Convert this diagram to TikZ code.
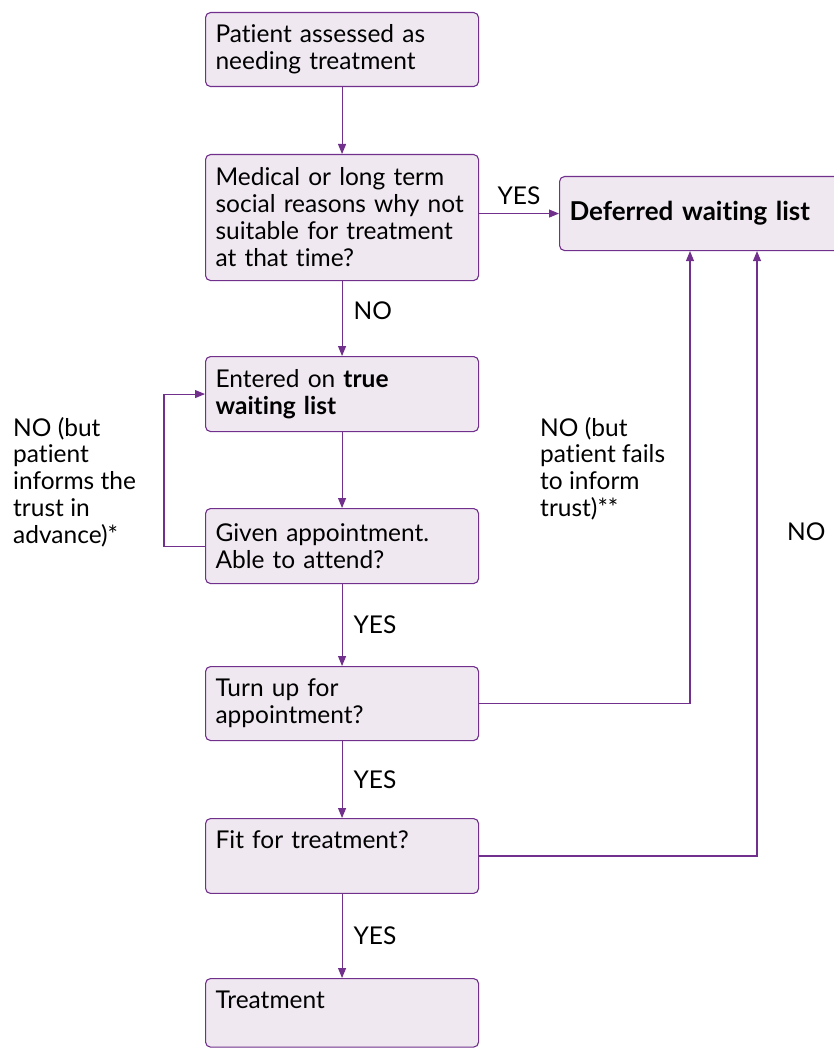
\documentclass[tikz,border=0pt]{standalone}
\usepackage{fontspec}
\setmainfont{Lato}[Ligatures=NoCommon]
\usepackage{tikz}
\usetikzlibrary{calc, positioning, arrows.meta}
\definecolor{flowline}{RGB}{112,48,140}
\definecolor{flowfill}{RGB}{239,232,241}
\tikzset{
  box/.style={draw=flowline, fill=flowfill, rounded corners=5pt, line width=1.1pt,
    anchor=north west, inner xsep=10pt, inner ysep=12pt, align=left,
    text width=253pt, minimum width=273pt, font=\fontsize{24.5}{27}\selectfont},
  flow/.style={draw=flowline, line width=1.1pt, -{Triangle[length=10pt,width=8pt]}},
  lbl/.style={font=\fontsize{24.5}{26.7}\selectfont, align=left, inner sep=0pt},
}

\begin{document}
\begin{tikzpicture}[x=1pt, y=-1pt]
\useasboundingbox (0,0) rectangle (833,1051);
\node[box, minimum height=74pt] (patient) at (205,12) {Patient assessed as\\needing treatment};
\node[box, minimum height=126pt] (reasons) at (205,154) {Medical or long term\\social reasons why not\\suitable for treatment\\at that time?};
\node[box, minimum height=74pt, text width=270pt, minimum width=289pt, font=\fontsize{26}{27}\selectfont] (deferred) at (559,176) {\textbf{Deferred waiting list}};
\node[box, minimum height=75pt] (truelist) at (205,356) {Entered on \textbf{true}\\\textbf{waiting list}};
\node[box, minimum height=75pt] (given) at (205,508) {Given appointment.\\Able to attend?};
\node[box, minimum height=74pt] (turnup) at (205,666) {Turn up for\\appointment?};
\node[box, text depth=33pt] (fit) at (205,818) {Fit for treatment?};
\node[box, text depth=27pt] (treat) at (205,978) {Treatment};

\coordinate (in1) at ($(deferred.south west)+(131,0)$);
\coordinate (in2) at ($(deferred.south west)+(198,0)$);

\node[lbl, anchor=north west] (adv) at (13,417) {NO (but\\patient\\informs the\\trust in\\advance)*};
\node[lbl, anchor=north west] (fails) at (540,417) {NO (but\\patient fails\\to inform\\trust)**};
\node[lbl, anchor=north west] (unfit) at (787,523) {NO};

\draw[flow] (patient) -- (reasons);
\draw[flow] (reasons.east |- deferred.west) -- node[lbl, above=8pt]{YES} (deferred.west);
\draw[flow] (reasons) -- node[lbl, right=11pt, pos=0.4]{NO} (truelist);
\draw[flow] (truelist) -- (given);
\draw[flow] (given.west) -- ++(-41,0) |- (truelist.west);
\draw[flow] (given) -- node[lbl, right=11pt]{YES} (turnup);
\draw[flow] (turnup.east) -| (in1);
\draw[flow] (turnup) -- node[lbl, right=11pt]{YES} (fit);
\draw[flow] (fit.east) -| (in2);
\draw[flow] (fit) -- node[lbl, right=11pt]{YES} (treat);
\end{tikzpicture}
\end{document}
